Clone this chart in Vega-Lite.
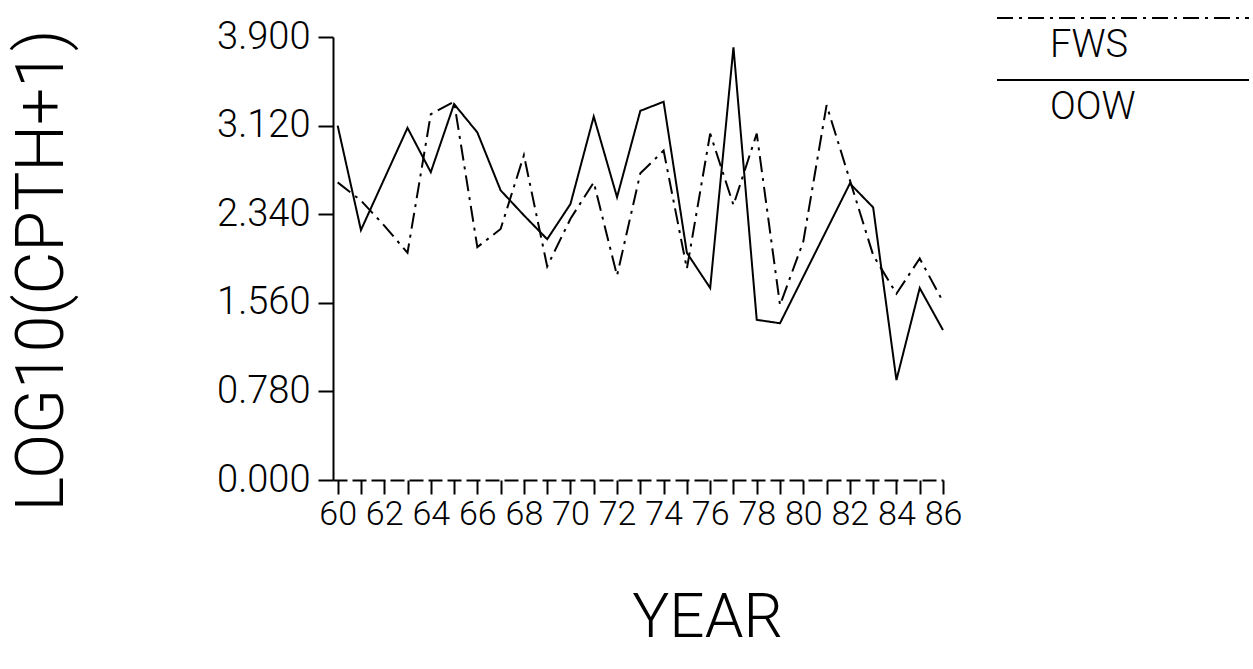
{
  "$schema": "https://vega.github.io/schema/vega-lite/v6.json",
  "autosize": {"type": "none"},
  "padding": {"left": 333, "top": 37, "right": 310, "bottom": 189},
  "width": 610,
  "height": 443,
  "background": "white",
  "config": {"view": {"stroke": null}},
  "data": {"values": [
    {"year": 60, "series": "OOW", "value": 3.12}, {"year": 61, "series": "OOW", "value": 2.20},
    {"year": 62, "series": "OOW", "value": 2.65}, {"year": 63, "series": "OOW", "value": 3.10},
    {"year": 64, "series": "OOW", "value": 2.71}, {"year": 65, "series": "OOW", "value": 3.31},
    {"year": 66, "series": "OOW", "value": 3.06}, {"year": 67, "series": "OOW", "value": 2.55},
    {"year": 68, "series": "OOW", "value": 2.33}, {"year": 69, "series": "OOW", "value": 2.12},
    {"year": 70, "series": "OOW", "value": 2.43}, {"year": 71, "series": "OOW", "value": 3.20},
    {"year": 72, "series": "OOW", "value": 2.49}, {"year": 73, "series": "OOW", "value": 3.25},
    {"year": 74, "series": "OOW", "value": 3.33}, {"year": 75, "series": "OOW", "value": 2.00},
    {"year": 76, "series": "OOW", "value": 1.69}, {"year": 77, "series": "OOW", "value": 3.81},
    {"year": 78, "series": "OOW", "value": 1.41}, {"year": 79, "series": "OOW", "value": 1.38},
    {"year": 80, "series": "OOW", "value": 1.79}, {"year": 81, "series": "OOW", "value": 2.20},
    {"year": 82, "series": "OOW", "value": 2.61}, {"year": 83, "series": "OOW", "value": 2.40},
    {"year": 84, "series": "OOW", "value": 0.88}, {"year": 85, "series": "OOW", "value": 1.69},
    {"year": 86, "series": "OOW", "value": 1.32},
    {"year": 60, "series": "FWS", "value": 2.62}, {"year": 61, "series": "FWS", "value": 2.46},
    {"year": 62, "series": "FWS", "value": 2.24}, {"year": 63, "series": "FWS", "value": 2.00},
    {"year": 64, "series": "FWS", "value": 3.22}, {"year": 65, "series": "FWS", "value": 3.33},
    {"year": 66, "series": "FWS", "value": 2.05}, {"year": 67, "series": "FWS", "value": 2.21},
    {"year": 68, "series": "FWS", "value": 2.86}, {"year": 69, "series": "FWS", "value": 1.88},
    {"year": 70, "series": "FWS", "value": 2.30}, {"year": 71, "series": "FWS", "value": 2.62},
    {"year": 72, "series": "FWS", "value": 1.80}, {"year": 73, "series": "FWS", "value": 2.70},
    {"year": 74, "series": "FWS", "value": 2.90}, {"year": 75, "series": "FWS", "value": 1.86},
    {"year": 76, "series": "FWS", "value": 3.05}, {"year": 77, "series": "FWS", "value": 2.42},
    {"year": 78, "series": "FWS", "value": 3.05}, {"year": 79, "series": "FWS", "value": 1.54},
    {"year": 80, "series": "FWS", "value": 2.10}, {"year": 81, "series": "FWS", "value": 3.30},
    {"year": 82, "series": "FWS", "value": 2.64}, {"year": 83, "series": "FWS", "value": 1.98},
    {"year": 84, "series": "FWS", "value": 1.64}, {"year": 85, "series": "FWS", "value": 1.95},
    {"year": 86, "series": "FWS", "value": 1.57}
  ]},
  "mark": {"type": "line", "color": "black", "strokeWidth": 2, "clip": false},
  "encoding": {
    "x": {
      "field": "year", "type": "quantitative",
      "scale": {"domain": [59.8, 86], "nice": false, "zero": false},
      "axis": {
        "title": "YEAR",
        "values": [60,61,62,63,64,65,66,67,68,69,70,71,72,73,74,75,76,77,78,79,80,81,82,83,84,85,86],
        "labelExpr": "datum.value % 2 == 0 ? format(datum.value, 'd') : ''",
        "grid": false,
        "domainColor": "black", "domainWidth": 2, "domainDash": [14, 5],
        "tickColor": "black", "tickWidth": 2, "tickSize": 14,
        "labelFont": "Roboto", "labelFontWeight": 300, "labelFontSize": 34, "labelColor": "black",
        "labelPadding": 3, "labelFlush": false, "labelOverlap": false,
        "titleFont": "Roboto", "titleFontWeight": 300, "titleFontSize": 62, "titleColor": "black",
        "titleX": 374, "titleY": 137, "titleAlign": "center", "titleBaseline": "middle"
      }
    },
    "y": {
      "field": "value", "type": "quantitative",
      "scale": {"domain": [0, 3.9], "nice": false},
      "axis": {
        "title": "LOG10(CPTH+1)",
        "values": [0, 0.78, 1.56, 2.34, 3.12, 3.9],
        "format": ".3f",
        "grid": false,
        "domainColor": "black", "domainWidth": 2,
        "tickColor": "black", "tickWidth": 2, "tickSize": 15,
        "labelFont": "Roboto", "labelFontWeight": 300, "labelFontSize": 38, "labelColor": "black",
        "labelPadding": 8, "labelFlush": false, "labelOverlap": false,
        "titleFont": "Roboto", "titleFontWeight": 300, "titleFontSize": 66, "titleColor": "black",
        "titleAngle": 270, "titleX": -291, "titleY": 233, "titleAlign": "center", "titleBaseline": "middle"
      }
    },
    "strokeDash": {
      "field": "series", "type": "nominal",
      "scale": {"domain": ["FWS", "OOW"], "range": [[16, 6, 3, 6], [1, 0]]},
      "legend": {
        "orient": "none", "legendX": 771, "legendY": -10, "title": null,
        "symbolType": "M-12.6,-2.8H12.6", "symbolSize": 400, "symbolStrokeWidth": 2, "symbolStrokeColor": "black",
        "rowPadding": 11, "padding": 0,
        "labelOffset": -92, "labelLimit": 400,
        "labelFont": "Roboto", "labelFontWeight": 300, "labelFontSize": 38, "labelColor": "black"
      }
    }
  }
}
